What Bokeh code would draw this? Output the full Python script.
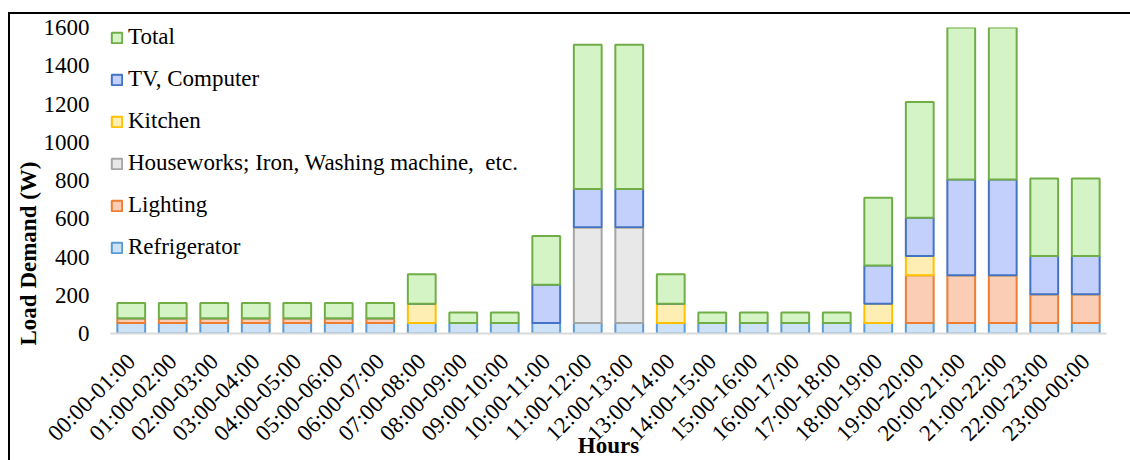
import math
from bokeh.plotting import figure
from bokeh.models import (FactorRange, Range1d, FixedTicker, Legend, LegendItem, Title,
                          GlobalInlineStyleSheet)
from bokeh.embed import file_html
from bokeh.resources import INLINE

hours = ["00:00-01:00", "01:00-02:00", "02:00-03:00", "03:00-04:00", "04:00-05:00",
         "05:00-06:00", "06:00-07:00", "07:00-08:00", "08:00-09:00", "09:00-10:00",
         "10:00-11:00", "11:00-12:00", "12:00-13:00", "13:00-14:00", "14:00-15:00",
         "15:00-16:00", "16:00-17:00", "17:00-18:00", "18:00-19:00", "19:00-20:00",
         "20:00-21:00", "21:00-22:00", "22:00-23:00", "23:00-00:00"]

refrigerator = [55, 55, 55, 55, 55, 55, 55, 55, 55, 55, 55, 55,
                55, 55, 55, 55, 55, 55, 55, 55, 55, 55, 55, 55]
lighting = [25, 25, 25, 25, 25, 25, 25, 0, 0, 0, 0, 0,
            0, 0, 0, 0, 0, 0, 0, 250, 250, 250, 150, 150]
houseworks = [0, 0, 0, 0, 0, 0, 0, 0, 0, 0, 0, 500,
              500, 0, 0, 0, 0, 0, 0, 0, 0, 0, 0, 0]
kitchen = [0, 0, 0, 0, 0, 0, 0, 100, 0, 0, 0, 0,
           0, 100, 0, 0, 0, 0, 100, 100, 0, 0, 0, 0]
tv_computer = [0, 0, 0, 0, 0, 0, 0, 0, 0, 0, 200, 200,
               200, 0, 0, 0, 0, 0, 200, 200, 500, 500, 200, 200]
total = [80, 80, 80, 80, 80, 80, 80, 155, 55, 55, 255, 755,
         755, 155, 55, 55, 55, 55, 355, 605, 805, 805, 405, 405]

series_keys = ["refrigerator", "lighting", "houseworks", "kitchen", "tv", "total"]
series_names = ["Refrigerator", "Lighting", "Houseworks; Iron, Washing machine,  etc.",
                "Kitchen", "TV, Computer", "Total"]
fills = ["#cde2f7", "#fbcdb5", "#e8e8e8", "#ffeeb3", "#c2d0fb", "#d5f4c6"]
lines = ["#5b9bd5", "#ed7d31", "#a5a5a5", "#ffc000", "#4472c4", "#70ad47"]

y_ticks = [0, 200, 400, 600, 800, 1000, 1200, 1400, 1600]

source = dict(hours=hours, refrigerator=refrigerator, lighting=lighting,
              houseworks=houseworks, kitchen=kitchen, tv=tv_computer, total=total)

FONT = "Liberation Serif"

p = figure(x_range=FactorRange(*hours, range_padding=0), y_range=Range1d(0, 1600),
           output_backend="svg", toolbar_location=None,
           min_border_left=100, min_border_top=13, min_border_right=24, min_border_bottom=110)
p.frame_width = 996
p.frame_height = 306
p.stylesheets = [GlobalInlineStyleSheet(css="html, body { margin: 0; padding: 0; overflow: hidden; }")]
p.styles = {"margin-left": "8px", "margin-top": "12px",
            "border-left": "2px solid #000000", "border-top": "2px solid #000000"}
p.outline_line_color = None
p.xgrid.grid_line_color = None
p.ygrid.grid_line_color = None

renderers = p.vbar_stack(series_keys, x="hours", width=0.67, source=source,
                         fill_color=fills, line_color=lines, line_width=2)

p.yaxis.ticker = FixedTicker(ticks=y_ticks)
p.yaxis.axis_line_color = None
p.yaxis.major_tick_line_color = None
p.yaxis.major_tick_out = 0
p.yaxis.major_tick_in = 0
p.yaxis.minor_tick_line_color = None
p.yaxis.major_label_standoff = 21
p.yaxis.major_label_text_font = FONT
p.yaxis.major_label_text_font_size = "23px"
p.yaxis.major_label_text_color = "#000000"

p.xaxis.axis_line_color = "#d9d9d9"
p.xaxis.axis_line_width = 2
p.xaxis.major_tick_line_color = None
p.xaxis.major_tick_out = 0
p.xaxis.major_tick_in = 0
p.xaxis.minor_tick_line_color = None
p.xaxis.major_label_orientation = math.pi / 4
p.xaxis.major_label_standoff = 24
p.xaxis.major_label_text_font = FONT
p.xaxis.major_label_text_font_size = "23px"
p.xaxis.major_label_text_color = "#000000"
p.xaxis.axis_label = "Hours"
p.xaxis.axis_label_standoff = -25
p.xaxis.axis_label_text_font = FONT
p.xaxis.axis_label_text_font_size = "23px"
p.xaxis.axis_label_text_font_style = "bold"
p.xaxis.axis_label_text_color = "#000000"

items = [LegendItem(label=series_names[i], renderers=[renderers[i]]) for i in range(5, -1, -1)]
legend = Legend(items=items, location=(0, 73), orientation="vertical",
                label_text_font=FONT, label_text_font_size="23px", label_text_color="#000000",
                glyph_width=13, glyph_height=13, label_standoff=5, spacing=16,
                padding=0, margin=0, background_fill_alpha=0, border_line_color=None)
p.add_layout(legend, "center")

ytitle = Title(text="Load Demand (W)", align="left", offset=-12, standoff=0,
               text_font=FONT, text_font_size="23px", text_font_style="bold",
               text_color="#000000")
p.add_layout(ytitle, "left")

open("out.html", "w").write(file_html(p, INLINE))
